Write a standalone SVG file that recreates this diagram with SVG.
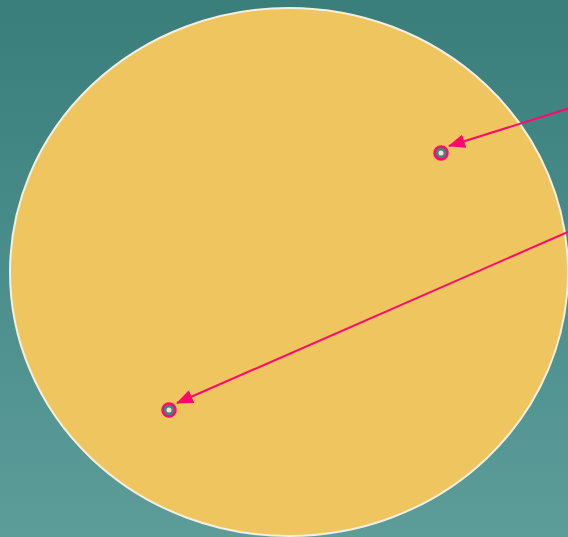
<svg xmlns="http://www.w3.org/2000/svg" width="568" height="537" viewBox="0 0 568 537">
<defs>
<linearGradient id="bg" x1="0" y1="0" x2="0" y2="1">
<stop offset="0" stop-color="#397e7b"/>
<stop offset="1" stop-color="#5c9d9a"/>
</linearGradient>
<marker id="ah" markerWidth="17" markerHeight="14" refX="16" refY="7" orient="auto" markerUnits="userSpaceOnUse" viewBox="0 0 17 14">
<path d="M0,0 L17,7 L0,14 Z" fill="#ff0a6c"/>
</marker>
<style>
.pt{fill:#3f8580;stroke:#ff0a6c;stroke-width:2.5}
.ptc{fill:#f3e6c8}
.ln{stroke:#ff0a6c;stroke-width:2;fill:none}
</style>
</defs>
<rect width="568" height="537" fill="url(#bg)"/>
<g id="disk">
<ellipse cx="289" cy="272" rx="279" ry="264" fill="#eec55e" stroke="#f3efe2" stroke-width="2"/>
</g>
<g id="point1"><circle class="pt" cx="441" cy="153" r="6.5"/><circle class="ptc" cx="441" cy="153" r="2.5"/></g>
<g id="point2"><circle class="pt" cx="169" cy="410" r="6.5"/><circle class="ptc" cx="169" cy="410" r="2.5"/></g>
<g id="connectors">
<line class="ln" x1="570" y1="108" x2="449" y2="146" marker-end="url(#ah)"/>
<line class="ln" x1="570" y1="231" x2="177" y2="403" marker-end="url(#ah)"/>
</g>
</svg>
